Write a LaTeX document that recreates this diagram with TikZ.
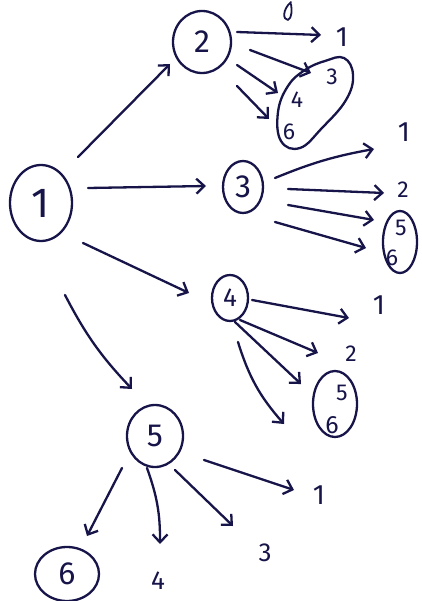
\documentclass[tikz,border=0pt]{standalone}
\usepackage{fontspec}
\setmainfont{Fira Sans}
\usetikzlibrary{arrows.meta,shapes.geometric}
\definecolor{ink}{RGB}{22,20,72}
\tikzset{
  every picture/.style={x=1pt,y=-1pt},
  pen/.style={draw=ink,line width=2.3pt,line cap=round,line join=round},
  arr/.style={pen,-{Straight Barb[length=8pt,width=15pt,line width=2.3pt]}},
  circ/.style={ellipse,draw=ink,line width=2.3pt,inner sep=0pt,text=ink,font=\fontsize{32}{32}\selectfont},
  leaf/.style={text=ink,inner sep=0pt,font=\fontsize{28}{28}\selectfont},
  small/.style={leaf,font=\fontsize{23}{23}\selectfont},
}
\begin{document}
\begin{tikzpicture}
\useasboundingbox (0,0) rectangle (421,601);
\fill[white] (0,0) rectangle (421,601);
% main nodes
\node[circ,minimum width=62pt,minimum height=76pt,font=\fontsize{42}{42}\selectfont] (n1) at (41,203) {1};
\node[circ,minimum width=58pt,minimum height=62pt] (n2) at (202,42) {2};
\node[circ,minimum width=40pt,minimum height=52pt] (n3) at (243,187) {3};
\node[circ,minimum width=36pt,minimum height=46pt,font=\fontsize{26}{26}\selectfont] (n4) at (230,298) {4};
\node[circ,minimum width=56pt,minimum height=62pt] (n5) at (155,436) {5};
\node[circ,minimum width=64pt,minimum height=54pt] (n6) at (67,574) {6};
% leaves of 2
\node[leaf] (a1) at (342,37) {1};
\node[small] (a3) at (332,77) {3};
\node[small] (a4) at (297,100) {4};
\node[small] (a6) at (289,132) {6};
\draw[pen] plot[smooth cycle,tension=0.7] coordinates {(305,70) (325,61) (344,58) (353,75) (346,100) (322,128) (300,148) (281,141) (278,112) (288,86)};
% leaves of 3
\node[leaf] (b1) at (404,132) {1};
\node[small] (b2) at (403,190) {2};
\node[circ,minimum width=34pt,minimum height=62pt] (b56) at (400,242) {};
\node[small] (b5) at (401,228) {5};
\node[small] (b6) at (392,258) {6};
% leaves of 4
\node[leaf] (c1) at (379,305) {1};
\node[small] (c2) at (351,354) {2};
\node[circ,minimum width=44pt,minimum height=66pt] (c56) at (335,404) {};
\node[small] (c5) at (342,393) {5};
\node[leaf,font=\fontsize{25}{25}\selectfont] (c6) at (332,425) {6};
% leaves of 5
\node[leaf] (d1) at (319,495) {1};
\node[leaf,font=\fontsize{26}{26}\selectfont] (d3) at (265,553) {3};
\node[leaf,font=\fontsize{26}{26}\selectfont] (d4) at (158,581) {4};
% arrow end points
\coordinate (s12) at (78,157);   \coordinate (e12) at (170,64);
\coordinate (s13) at (88,188);   \coordinate (e13) at (206,186);
\coordinate (s14) at (83,243);   \coordinate (e14) at (189,293);
\coordinate (s15) at (65,295);   \coordinate (e15) at (132,389);
\coordinate (s2a) at (237,32);   \coordinate (e2a) at (321,35);
\coordinate (s2b) at (250,50);   \coordinate (e2b) at (311,73);
\coordinate (s2c) at (237,65);   \coordinate (e2c) at (278,93);
\coordinate (s2d) at (237,86);   \coordinate (e2d) at (269,119);
\coordinate (s3a) at (275,178);  \coordinate (e3a) at (374,149);
\coordinate (s3b) at (288,189);  \coordinate (e3b) at (384,193);
\coordinate (s3c) at (288,205);  \coordinate (e3c) at (374,220);
\coordinate (s3d) at (275,222);  \coordinate (e3d) at (366,248);
\coordinate (s4a) at (252,300);  \coordinate (e4a) at (349,318);
\coordinate (s4b) at (240,320);  \coordinate (e4b) at (318,353);
\coordinate (s4c) at (235,322);  \coordinate (e4c) at (301,384);
\coordinate (s4d) at (238,342);  \coordinate (e4d) at (284,424);
\coordinate (s5a) at (204,460);  \coordinate (e5a) at (294,490);
\coordinate (s5b) at (175,470);  \coordinate (e5b) at (233,526);
\coordinate (s5c) at (147,468);  \coordinate (e5c) at (160,544);
\coordinate (s5d) at (122,468);  \coordinate (e5d) at (87,536);
% arrows
\draw[arr] (s12) -- (e12);
\draw[arr] (s13) -- (e13);
\draw[arr] (s14) -- (e14);
\draw[arr] (s15) to[bend right=8] (e15);
\draw[arr] (s2a) -- (e2a);
\draw[arr] (s2b) -- (e2b);
\draw[arr] (s2c) -- (e2c);
\draw[arr] (s2d) -- (e2d);
\draw[arr] (s3a) to[bend left=6] (e3a);
\draw[arr] (s3b) -- (e3b);
\draw[arr] (s3c) -- (e3c);
\draw[arr] (s3d) -- (e3d);
\draw[arr] (s4a) -- (e4a);
\draw[arr] (s4b) -- (e4b);
\draw[arr] (s4c) -- (e4c);
\draw[arr] (s4d) to[bend right=12] (e4d);
\draw[arr] (s5a) -- (e5a);
\draw[arr] (s5b) -- (e5b);
\draw[arr] (s5c) to[bend left=10] (e5c);
\draw[arr] (s5d) -- (e5d);
% stray pen mark at top
\draw[pen,line width=1.8pt] (291,2) .. controls (282,10) and (283,20) .. (288,20) .. controls (292,18) and (292,10) .. (291,4);
\end{tikzpicture}
\end{document}
